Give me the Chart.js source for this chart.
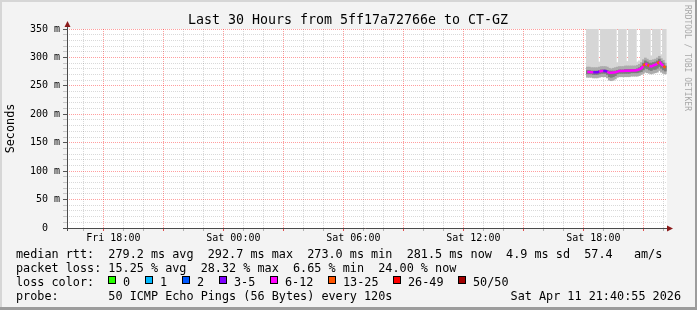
<!DOCTYPE html>
<html><head><meta charset="utf-8">
<script src="https://cdn.jsdelivr.net/npm/chart.js@4.4.1/dist/chart.umd.min.js"></script>
<style>html,body{margin:0;padding:0;background:#f3f3f3}canvas{display:block}</style>
</head><body>
<canvas id="c" width="697" height="310"></canvas>
<script>
// sample times (Sat), one every 6 minutes
const times = ['17:42','17:48','17:54','18:00','18:06','18:12','18:18','18:24','18:30','18:36',
  '18:42','18:48','18:54','19:00','19:06','19:12','19:18','19:24','19:30','19:36',
  '19:42','19:48','19:54','20:00','20:06','20:12','20:18','20:24','20:30','20:36',
  '20:42','20:48','20:54','21:00','21:06','21:12','21:18','21:24','21:30','21:36'];
// median rtt in ms
const median = [274.5,274.5,274,274,274,274,275,276,276,276,275,273,273,273.5,274,275,276,276,276,276.5,
  276.5,276.5,277,277,277,278,279,281,285,289,287,285,284,286,287,289,292.7,288,285,281.5];
// packet loss in %
const lossPct = [16,14,14,8,6.65,8,14,16,8,8,14,18,16,14,16,14,14,16,14,14,
  12,14,16,14,16,14,18,20,26,18,28.32,20,22,18,20,26,22,18,26,24];
// smoke bands (ms)
const darkLow = [271,271,271,270,270,270,271,272,272,272,270,266,265,266,268,271,272,272,272,272,
  272,272,273,273,273,273,274,275,278,281,280,278,277,279,279,281,284,281,278,276];
const darkHigh = [277,277,276,276,276,276,277,278,278,278,277,276,276,276,276,277,278,278,278,279,
  279,279,279,279,279,280,282,285,290,294,292,290,290,291,292,294,297,293,290,285];
const midLow = [265,265,265,264,264,264,265,266,266,266,264,260,259,260,262,265,266,266,266,266,
  266,266,267,267,267,267,268,270,272,274,273,272,271,272,273,274,277,274,272,271];
const midHigh = [283,283,282,282,282,282,283,284,284,284,283,281,280,281,282,283,284,284,284,285,
  285,285,285,285,285,286,288,291,296,299,297,295,295,296,297,299,302,298,295,290];
const lightHigh = [350,350,350,350,350,350,292,350,350,350,350,350,350,350,350,291,350,350,350,350,
  293,350,350,350,350,292,294,350,350,350,350,350,303,350,350,350,350,305,350,350];

const tickHours = [18, 24, 30, 36, 42];
const tickLabels = ['Fri 18:00', 'Sat 00:00', 'Sat 06:00', 'Sat 12:00', 'Sat 18:00'];
const yMax = 350, yMinorStep = 10, yLabelEvery = 50;

const lossLabels = ['0', '1', '2', '3-5', '6-12', '13-25', '26-49', '50/50'];
const lossColors = ['#26ff00', '#00b8ff', '#0059ff', '#7e00ff', '#ff00ff', '#ff5500', '#ff0000', '#a10000'];
const lossLimits = [0, 1, 2, 5, 12, 25, 49, 50];
const pings = 50;

const title = 'Last 30 Hours from 5ff17a72766e to CT-GZ';
const rttLine = 'median rtt:  279.2 ms avg  292.7 ms max  273.0 ms min  281.5 ms now  4.9 ms sd  57.4   am/s';
const lossLine = 'packet loss: 15.25 % avg  28.32 % max  6.65 % min  24.00 % now';
const probeLine = 'probe:       50 ICMP Echo Pings (56 Bytes) every 120s';
const stamp = 'Sat Apr 11 21:40:55 2026';

const endT = 24 + 21 + 40/60 + 55/3600;
const startT = endT - 30;
const toH = s => { const [h, m] = s.split(':').map(Number); return 24 + h + m/60; };

function lossColor(p) {
  const n = Math.round(p / 100 * pings);
  for (let i = 0; i < lossLimits.length; i++) if (n <= lossLimits[i]) return lossColors[i];
  return lossColors[lossColors.length - 1];
}

const MONO = '"DejaVu Sans Mono", monospace';
Chart.defaults.font.family = MONO;
Chart.defaults.color = '#000';

// grid drawn over the smoke, like rrdtool does
const MAJOR = 'rgba(255,0,0,0.38)';
const MINOR = 'rgba(0,0,0,0.15)';
const isMajorX = c => c.tick && Math.round(c.tick.value) % 3 === 0;
const isMajorY = c => c.tick && Math.round(c.tick.value) % yLabelEvery === 0;

const bars = (lo, hi, color, order) => ({
  type: 'bar', order, grouped: false, backgroundColor: color, borderWidth: 0,
  barPercentage: 1, categoryPercentage: 1,
  data: times.map((t, i) => ({ x: toH(t), y: [lo[i], hi[i]] }))
});

const deco = {
  id: 'deco',
  beforeDraw(chart) {
    const c = chart.ctx, a = chart.chartArea, W = chart.width, H = chart.height;
    c.save();
    c.fillStyle = '#f3f3f3'; c.fillRect(0, 0, W, H);
    c.fillStyle = '#d6d6d6'; c.fillRect(0, 0, W, 2); c.fillRect(0, 0, 2, H);
    c.fillStyle = '#9c9c9c'; c.fillRect(0, H - 3, W, 3); c.fillRect(W - 2, 0, 2, H);
    c.fillStyle = '#fff'; c.fillRect(a.left, a.top, a.right - a.left, a.bottom - a.top);
    c.restore();
  },
  afterDraw(chart) {
    const c = chart.ctx, a = chart.chartArea;
    c.save();
    // axes + arrows
    c.strokeStyle = '#4a4a4a'; c.lineWidth = 1;
    c.beginPath();
    c.moveTo(a.left + 0.5, a.top - 3); c.lineTo(a.left + 0.5, a.bottom + 3);
    c.moveTo(a.left - 4, a.bottom + 0.5); c.lineTo(a.right + 1, a.bottom + 0.5);
    c.stroke();
    c.fillStyle = '#8b1a1a';
    c.beginPath();
    c.moveTo(a.left + 0.5, a.top - 8); c.lineTo(a.left + 3.5, a.top - 2); c.lineTo(a.left - 2.5, a.top - 2);
    c.closePath(); c.fill();
    c.beginPath();
    c.moveTo(a.right + 6, a.bottom + 0.5); c.lineTo(a.right, a.bottom + 3.5); c.lineTo(a.right, a.bottom - 2.5);
    c.closePath(); c.fill();

    c.fillStyle = '#000';
    c.font = '13.3px ' + MONO; c.textAlign = 'center'; c.textBaseline = 'alphabetic';
    c.fillText(title, 348, 24);

    c.save();
    c.translate(14, (a.top + a.bottom) / 2);
    c.rotate(-Math.PI / 2);
    c.font = '11.8px ' + MONO; c.textAlign = 'center';
    c.fillText('Seconds', 0, 0);
    c.restore();

    c.save();
    c.translate(685, 5);
    c.rotate(Math.PI / 2);
    c.font = '8px ' + MONO; c.textAlign = 'left'; c.fillStyle = '#a8a8a8';
    c.fillText('RRDTOOL / TOBI OETIKER', 0, 0);
    c.restore();

    c.font = '11.8px ' + MONO; c.textAlign = 'left';
    c.fillText(rttLine, 16, 258);
    c.fillText(lossLine, 16, 272);
    c.fillText('loss color:', 16, 286);
    c.fillText(probeLine, 16, 300);
    c.textAlign = 'right';
    c.fillText(stamp, 681, 300);
    c.textAlign = 'left';
    const boxX = [108, 145, 182, 219, 270, 328, 393, 458];
    lossLabels.forEach((l, i) => {
      c.fillStyle = lossColors[i]; c.fillRect(boxX[i], 276, 8, 8);
      c.strokeStyle = '#000'; c.strokeRect(boxX[i] + 0.5, 276.5, 7, 7);
      c.fillStyle = '#000'; c.fillText(l, boxX[i] + 15, 286);
    });
    c.restore();
  }
};

new Chart(document.getElementById('c'), {
  type: 'bar',
  data: {
    datasets: [
      {
        type: 'line', order: 1, borderWidth: 2.5, pointRadius: 0, tension: 0,
        borderColor: lossColors[4],
        segment: { borderColor: s => lossColor(lossPct[s.p0DataIndex]) },
        data: times.map((t, i) => ({ x: toH(t), y: median[i] }))
      },
      bars(darkLow, darkHigh, '#7c7c7c', 2),
      bars(midLow, midHigh, '#acacac', 3),
      bars(midHigh, lightHigh, '#d6d6d6', 4)
    ]
  },
  options: {
    responsive: false, animation: false, devicePixelRatio: 1, events: [],
    layout: { padding: { left: 0, right: 30, top: 29, bottom: 0 } },
    plugins: { legend: { display: false }, tooltip: { enabled: false } },
    scales: {
      x: {
        type: 'linear', min: startT, max: endT, offset: false, z: 1,
        afterBuildTicks: s => {
          const t = [];
          for (let h = Math.ceil(startT); h <= endT; h++) t.push({ value: h });
          s.ticks = t;
        },
        afterFit: s => { s.height = 82; },
        grid: {
          color: c => isMajorX(c) ? MAJOR : MINOR,
          tickColor: c => isMajorX(c) ? '#e05050' : '#b0b0b0',
          tickLength: 3
        },
        border: { display: false, dash: [1, 1] },
        ticks: {
          autoSkip: false, maxRotation: 0, padding: 1, font: { size: 10 },
          callback: v => { const i = tickHours.indexOf(v); return i < 0 ? '' : tickLabels[i]; }
        }
      },
      y: {
        min: 0, max: yMax, z: 1,
        afterBuildTicks: s => {
          const t = [];
          for (let v = 0; v <= yMax; v += yMinorStep) t.push({ value: v });
          s.ticks = t;
        },
        afterFit: s => { s.width = 67; },
        grid: {
          color: c => isMajorY(c) ? MAJOR : MINOR,
          tickColor: c => isMajorY(c) ? '#555' : '#c8c8c8',
          tickLength: 4
        },
        border: { display: false, dash: [1, 1] },
        ticks: {
          autoSkip: false, padding: 3, font: { size: 10 },
          callback: v => v % yLabelEvery ? '' : (v === 0 ? '0  ' : v + ' m')
        }
      }
    }
  },
  plugins: [deco]
});
</script>
</body></html>
